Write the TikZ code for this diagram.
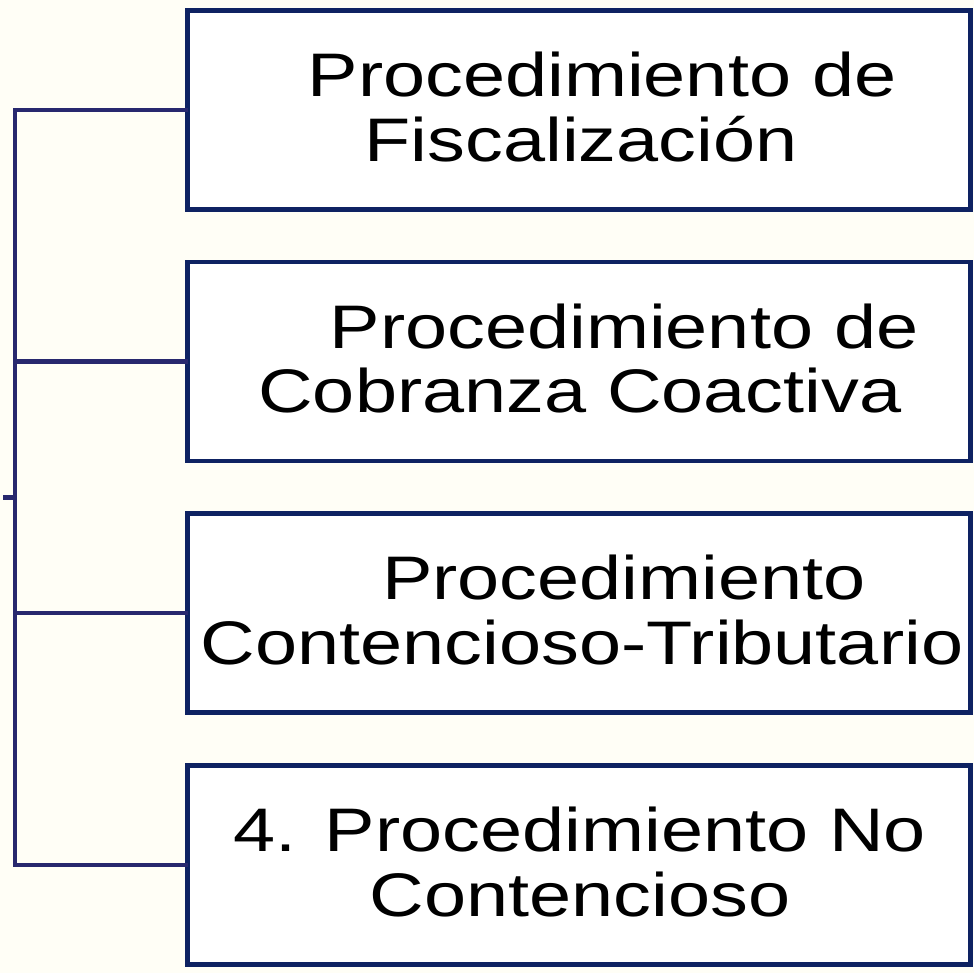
\documentclass[tikz,border=0pt]{standalone}
\usepackage{fontspec}
\newfontfamily\boxfont[FakeStretch=1.23]{Liberation Sans}
\definecolor{bgcream}{HTML}{FFFEF6}
\definecolor{boxline}{HTML}{0E2262}
\definecolor{connline}{HTML}{28286E}
\begin{document}
\begin{tikzpicture}[x=1pt,y=-1pt,
  procbox/.style={draw=boxline,line width=4.5pt,fill=white,rectangle,
    minimum width=783pt,minimum height=199pt,inner sep=0pt,outer sep=0pt},
  boxtext/.style={anchor=base,inner sep=0pt,outer sep=0pt,
    font=\boxfont\fontsize{61.5}{65}\selectfont,text=black},
  conn/.style={draw=connline,line width=4.5pt,line cap=butt}]
\fill[bgcream] (0,0) rectangle (974,973);
\useasboundingbox (0,0) rectangle (974,973);
% boxes
\node[procbox] (b1) at (579,110.25) {};
\node[procbox] (b2) at (579,361.5) {};
\node[procbox] (b3) at (579,613) {};
\node[procbox] (b4) at (579,865) {};
% texts
\node[boxtext] (t1a) at ([xshift=23pt,yshift=13.4pt]b1.center) {Procedimiento de};
\node[boxtext] (t1b) at ([xshift=2pt,yshift=-51.4pt]b1.center) {Fiscalización};
\node[boxtext] (t2a) at ([xshift=45pt,yshift=13.4pt]b2.center) {Procedimiento de};
\node[boxtext] (t2b) at ([xshift=1pt,yshift=-51.4pt]b2.center) {Cobranza Coactiva};
\node[boxtext] (t3a) at ([xshift=45pt,yshift=13.4pt]b3.center) {Procedimiento};
\node[boxtext] (t3b) at ([xshift=3pt,yshift=-51.4pt]b3.center) {Contencioso-Tributario};
\node[boxtext] (t4a) at ([xshift=1pt,yshift=13.4pt]b4.center) {4. Procedimiento No};
\node[boxtext] (t4b) at ([xshift=1pt,yshift=-51.4pt]b4.center) {Contencioso};
% connectors
\coordinate (top) at (15,109.7);
\coordinate (bot) at (15,865);
\coordinate (stubin) at (15,497.5);
\coordinate (stubout) at (3,497.5);
\draw[conn] (b1.west) -- (top |- b1.west) -- (bot |- b4.west) -- (b4.west);
\draw[conn] (b2.west) -- (top |- b2.west);
\draw[conn] (b3.west) -- (top |- b3.west);
\draw[conn] (stubin) -- (stubout);
\end{tikzpicture}
\end{document}
